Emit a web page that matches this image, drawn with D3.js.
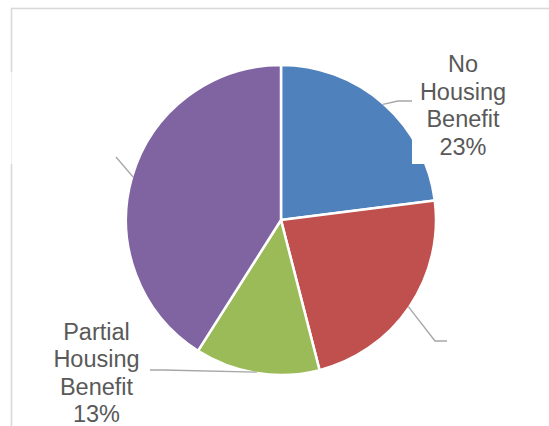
<!DOCTYPE html>
<html>
<head>
<meta charset="utf-8">
<script src="https://cdn.jsdelivr.net/npm/d3@7"></script>
<style>
  html, body { margin: 0; padding: 0; background: #fff; }
  svg { display: block; }
</style>
</head>
<body>
<svg id="chart" width="549" height="426"></svg>
<script>
// ---- data ----
const categories = ["No Housing Benefit", "Full Housing Benefit", "Partial Housing Benefit", "Other"];
const values = [23, 23, 13, 41];
const colors = ["#4f81bd", "#c0504d", "#9bbb59", "#8064a2"];
const showLabel = [true, false, true, false];

// ---- layout ----
const W = 549, H = 426;
const cx = 281, cy = 220, R = 155;
const svg = d3.select("#chart");

// chart frame
svg.append("rect")
  .attr("x", 11.5).attr("y", 8.5)
  .attr("width", 600).attr("height", 600)
  .attr("fill", "none").attr("stroke", "#d9d9d9").attr("stroke-width", 1.6);

const pie = d3.pie().sort(null).value(d => d)(values);
const arc = d3.arc().innerRadius(0).outerRadius(R);

const g = svg.append("g").attr("transform", `translate(${cx},${cy})`);
g.selectAll("path.slice").data(pie).join("path")
  .attr("class", "slice")
  .attr("d", arc)
  .attr("fill", (d, i) => colors[i])
  .attr("stroke", "#fff")
  .attr("stroke-width", 2.5)
  .attr("stroke-linejoin", "round");

// white boxes covering parts of the chart (hidden label areas)
svg.append("rect").attr("x", 0).attr("y", 72).attr("width", 116).attr("height", 92).attr("fill", "#fff");
svg.append("line").attr("x1", 11.5).attr("x2", 11.5).attr("y1", 72).attr("y2", 164)
  .attr("stroke", "#eeeeee").attr("stroke-width", 1);
svg.append("rect").attr("x", 412).attr("y", 30).attr("width", 110).attr("height", 134).attr("fill", "#fff");

// leader lines: start at slice mid-angle on the rim
const pt = (a, r) => [cx + r * Math.sin(a), cy - r * Math.cos(a)];
const leaderPts = [
  [[398, 101], [412, 101]],
  [[435, 341], [447, 341]],
  [[163, 370], [150, 370]],
  [[116, 157]]
];
const line = d3.line();
pie.forEach((d, i) => {
  const mid = (d.startAngle + d.endAngle) / 2;
  const pts = [pt(mid, R - 1)].concat(leaderPts[i]);
  svg.append("path")
    .attr("d", line(pts))
    .attr("fill", "none")
    .attr("stroke", "#a6a6a6")
    .attr("stroke-width", 1.3);
});

// data labels
const labelPos = [[463, 72], null, [96.5, 339.5], null];
const lineH = 27.6;
pie.forEach((d, i) => {
  if (!showLabel[i]) return;
  const words = categories[i].split(" ");
  const pct = Math.round(values[i] / d3.sum(values) * 100) + "%";
  const lines = words.concat([pct]);
  const t = svg.append("text")
    .attr("text-anchor", "middle")
    .attr("font-family", "'Liberation Sans', Arial, sans-serif")
    .attr("font-size", 23.5)
    .attr("fill", "#595959");
  lines.forEach((s, k) => {
    t.append("tspan").attr("x", labelPos[i][0]).attr("y", labelPos[i][1] + k * lineH).text(s);
  });
});
</script>
</body>
</html>
